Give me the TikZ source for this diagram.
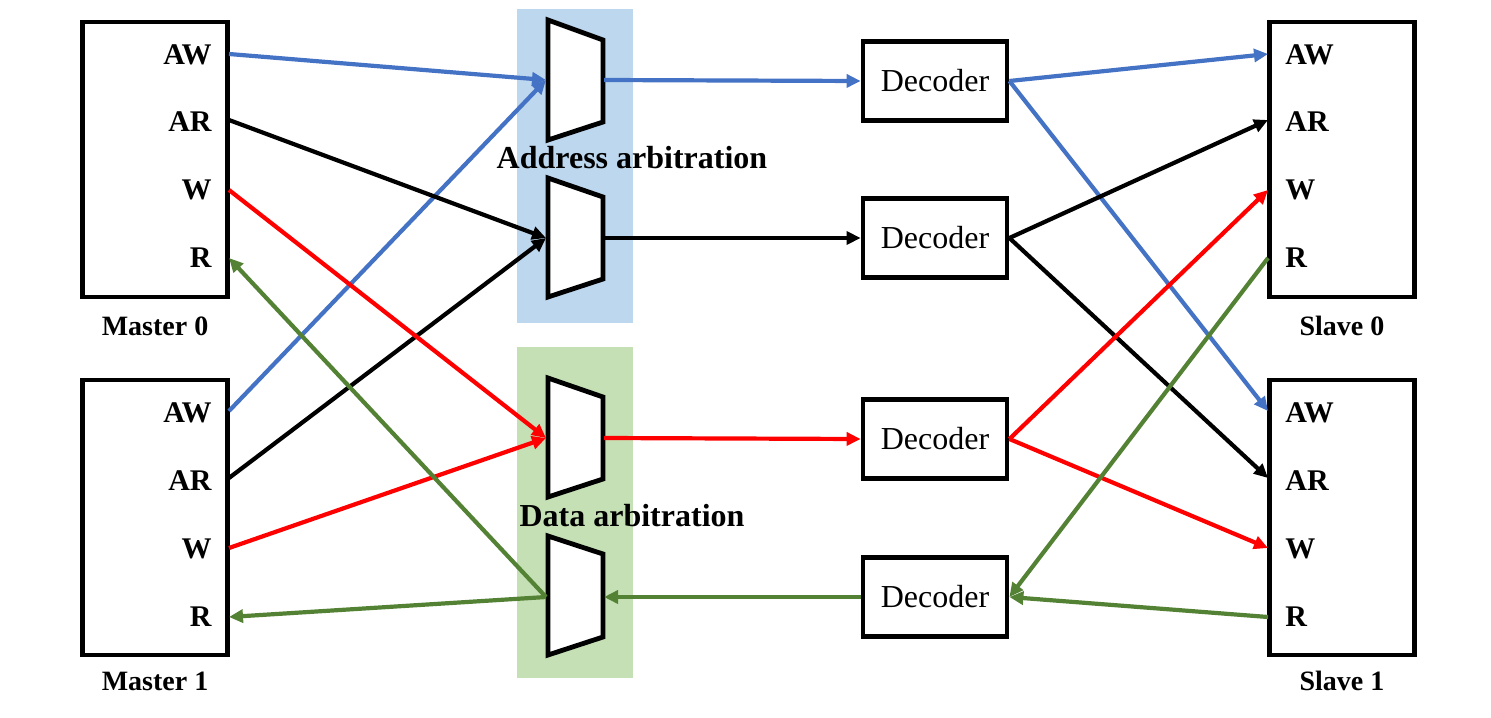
\documentclass[tikz,border=0pt]{standalone}
\usepackage{fontspec}
\setmainfont{Liberation Serif}
\usetikzlibrary{arrows.meta}
\definecolor{ablue}{HTML}{4472C4}
\definecolor{ared}{HTML}{FF0000}
\definecolor{agreen}{HTML}{548235}
\definecolor{bgblue}{HTML}{BDD7EE}
\definecolor{bggreen}{HTML}{C5E0B4}
\begin{document}
\begin{tikzpicture}[x=0.5pt,y=-0.5pt,
  unitbox/.style={draw,line width=2.4pt,minimum width=72.5pt,minimum height=137.5pt,inner sep=0pt},
  decbox/.style={draw,line width=2.4pt,minimum width=72pt,minimum height=39.5pt,inner sep=0pt,font=\fontsize{16}{18}\selectfont},
  portl/.style={font=\fontsize{15}{17}\selectfont\bfseries,inner sep=0pt},
  unitlabel/.style={font=\fontsize{14}{16}\selectfont\bfseries,inner sep=0pt},
  arblabel/.style={font=\fontsize{16}{18}\selectfont\bfseries,inner sep=0pt},
  muxshape/.style={draw,line width=2.4pt,fill=white},
  conn/.style={line width=2.1pt,-{Triangle[length=7pt,width=6.5pt]}},
  plain/.style={line width=2.1pt}
]
\useasboundingbox (0,0) rectangle (1491,717);
% backgrounds
\fill[bgblue] (517,9) rectangle (633,323);
\fill[bggreen] (517,347) rectangle (633,678);

% masters and slaves
\node[unitbox] (m0) at (155,159.5) {};
\node[unitbox] (m1) at (155,517.5) {};
\node[unitbox] (s0) at (1342,159.5) {};
\node[unitbox] (s1) at (1342,517.5) {};
\node[unitlabel] (m0l) at (155,326) {Master 0};
\node[unitlabel] (m1l) at (155,681) {Master 1};
\node[unitlabel] (s0l) at (1342,326) {Slave 0};
\node[unitlabel] (s1l) at (1342,681) {Slave 1};

% port labels
\foreach \n/\t/\y in {aw/AW/55,ar/AR/122,w/W/190,r/R/258}{
  \node[portl,anchor=east] (m0\n) at (212,\y) {\t};
  \node[portl,anchor=west] (s0\n) at (1285,\y) {\t};
}
\foreach \n/\t/\y in {aw/AW/413,ar/AR/481,w/W/549,r/R/617}{
  \node[portl,anchor=east] (m1\n) at (212,\y) {\t};
  \node[portl,anchor=west] (s1\n) at (1285,\y) {\t};
}
% port points
\foreach \n/\y in {aw/54,ar/120,w/190,r/258}{
  \coordinate (pm0\n) at (229,\y);
  \coordinate (ps0\n) at (1268,\y);
}
\foreach \n/\y in {aw/411,ar/478,w/548,r/617}{
  \coordinate (pm1\n) at (229,\y);
  \coordinate (ps1\n) at (1268,\y);
}

% muxes
\draw[muxshape] (548,20) -- (603,40) -- (603,122) -- (548,140) -- cycle;
\draw[muxshape] (548,178) -- (603,197) -- (603,279) -- (548,297) -- cycle;
\draw[muxshape] (548,378) -- (603,397) -- (603,479) -- (548,497) -- cycle;
\draw[muxshape] (548,536) -- (603,554) -- (603,637) -- (548,655) -- cycle;
\coordinate (x1i) at (546,80);  \coordinate (x1o) at (604,80);
\coordinate (x2i) at (546,238); \coordinate (x2o) at (604,238);
\coordinate (x3i) at (546,438); \coordinate (x3o) at (604,438);
\coordinate (x4i) at (546,597); \coordinate (x4o) at (604,597);

\node[arblabel] (addr) at (632,158) {Address arbitration};
\node[arblabel] (data) at (632,516) {Data arbitration};

% decoders
\node[decbox] (d1) at (935,81) {Decoder};
\node[decbox] (d2) at (935,238) {Decoder};
\node[decbox] (d3) at (935,439) {Decoder};
\node[decbox] (d4) at (935,597) {Decoder};

% blue (AW)
\draw[conn,ablue] (pm0aw) -- (x1i);
\draw[conn,ablue] (pm1aw) -- (x1i);
\draw[conn,ablue] (x1o) -- (d1.west);
\draw[conn,ablue] (d1.east) -- (ps0aw);
\draw[conn,ablue] (d1.east) -- (ps1aw);
% black (AR)
\draw[conn,black] (pm0ar) -- (x2i);
\draw[conn,black] (pm1ar) -- (x2i);
\draw[conn,black] (x2o) -- (d2.west);
\draw[conn,black] (d2.east) -- (ps0ar);
\draw[conn,black] (d2.east) -- (ps1ar);
% red (W)
\draw[conn,ared] (pm0w) -- (x3i);
\draw[conn,ared] (pm1w) -- (x3i);
\draw[conn,ared] (x3o) -- (d3.west);
\draw[conn,ared] (d3.east) -- (ps0w);
\draw[conn,ared] (d3.east) -- (ps1w);
% green (R)
\draw[conn,agreen] (ps0r) -- (d4.east);
\draw[conn,agreen] (ps1r) -- (d4.east);
\draw[conn,agreen] (d4.west) -- (x4o);
\draw[conn,agreen] (x4i) -- (pm0r);
\draw[conn,agreen] (x4i) -- (pm1r);
\end{tikzpicture}
\end{document}
